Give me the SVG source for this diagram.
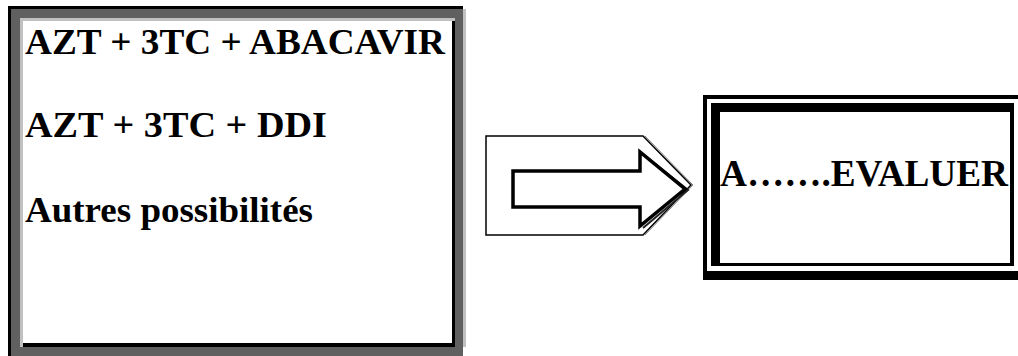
<svg xmlns="http://www.w3.org/2000/svg" width="1018" height="356" viewBox="0 0 1018 356">
<style>
.lbl{font-family:"Liberation Serif",serif;font-weight:bold;fill:#000}
.big{font-size:35px}
.blk{fill:#000}
</style>
<rect x="0" y="0" width="1018" height="356" fill="#fff"/>
<g id="node-regimens">
  <rect x="11" y="9" width="452" height="347" fill="#606060"/>
  <rect x="8" y="6" width="3" height="350" class="blk"/>
  <rect x="8" y="6" width="455" height="3" class="blk"/>
  <rect x="463" y="9" width="3" height="338" fill="#c0c0c0"/>
  <rect x="20" y="18" width="435" height="329" fill="#c0c0c0"/>
  <rect x="23" y="21" width="432" height="326" class="blk"/>
  <rect x="23" y="21" width="429" height="322" fill="#fff"/>
  <text class="lbl big" x="25" y="54" textLength="420" lengthAdjust="spacingAndGlyphs">AZT + 3TC + ABACAVIR</text>
  <text class="lbl big" x="25" y="137" textLength="302" lengthAdjust="spacingAndGlyphs">AZT + 3TC + DDI</text>
  <text class="lbl big" x="25" y="222" textLength="288" lengthAdjust="spacingAndGlyphs">Autres possibilités</text>
</g>
<g id="connectors">
  <polyline points="645,136 693,185 645,235" fill="none" stroke="#888" stroke-width="1"/>
  <polygon points="486,136 643,136 691,185 643,235 486,235" fill="#fff" stroke="#000" stroke-width="1.5"/>
  <polyline points="643,154 688,190 643,228" fill="none" stroke="#222" stroke-width="2"/>
  <polygon points="513,171 640,171 640,152 685,189 640,226 640,207 513,207" fill="#fff" stroke="#000" stroke-width="3.5" stroke-linejoin="miter"/>
</g>
<g id="node-evaluer">
  <rect x="703" y="95" width="330" height="185" class="blk"/>
  <rect x="707" y="99" width="326" height="172" fill="#fff"/>
  <rect x="711" y="103" width="303" height="163" class="blk"/>
  <rect x="720" y="112" width="290" height="151" fill="#fff"/>
  <text class="lbl" x="720" y="186" font-size="37" textLength="288" lengthAdjust="spacingAndGlyphs">A…….EVALUER</text>
</g>
</svg>
